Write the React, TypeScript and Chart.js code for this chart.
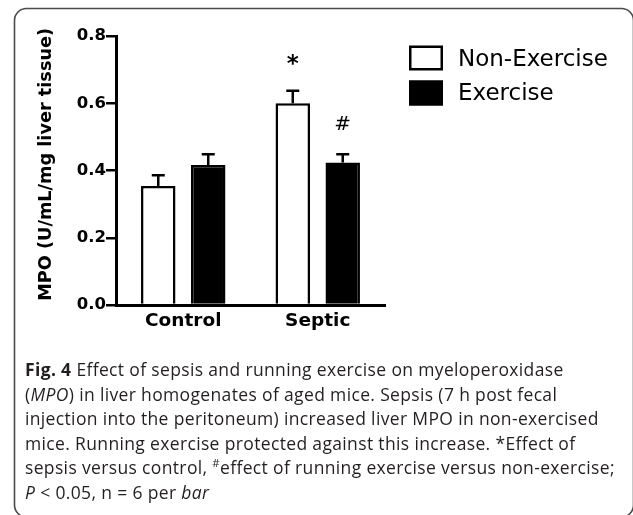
import React, { useEffect, useRef } from "react";
import { Chart, registerables } from "chart.js";

Chart.register(...registerables);

// ---- data ----
const categories = ["Control", "Septic"];
const seriesNames = ["Non-Exercise", "Exercise"];
const nonExerciseMean = [0.354, 0.6];
const nonExerciseSem = [0.032, 0.037];
const exerciseMean = [0.416, 0.424];
const exerciseSem = [0.032, 0.024];
const nonExerciseMarks = ["", "*"];
const exerciseMarks = ["", "#"];
const yTicks = [0, 0.2, 0.4, 0.6, 0.8];
const yTitle = "MPO (U/mL/mg liver tissue)";

const BOLD = "'DejaVu Sans', sans-serif";

const framePlugin = {
  id: "frame",
  beforeDraw(chart: any) {
    const ctx = chart.ctx;
    ctx.save();
    ctx.strokeStyle = "#4a4a4a";
    ctx.lineWidth = 1.6;
    ctx.beginPath();
    ctx.roundRect(14.5, 8.5, 619, 508.5, 12);
    ctx.stroke();
    ctx.restore();
  },
};

const errorBarPlugin = {
  id: "errorBars",
  afterDatasetsDraw(chart: any) {
    const ctx = chart.ctx;
    const y = chart.scales.y;
    chart.data.datasets.forEach((ds: any, di: number) => {
      const meta = chart.getDatasetMeta(di);
      meta.data.forEach((bar: any, i: number) => {
        const mean = ds.data[i];
        const err = ds.errors[i];
        const top = y.getPixelForValue(mean + err);
        const x = bar.x;
        ctx.save();
        ctx.strokeStyle = "#000";
        ctx.lineWidth = 2.5;
        ctx.beginPath();
        ctx.moveTo(x, bar.y);
        ctx.lineTo(x, top);
        ctx.moveTo(x - 6.5, top);
        ctx.lineTo(x + 6.5, top);
        ctx.stroke();
        const mark = ds.marks[i];
        if (mark) {
          ctx.fillStyle = "#000";
          ctx.textAlign = "center";
          ctx.textBaseline = "alphabetic";
          if (mark === "*") {
            ctx.font = `bold 23px ${BOLD}`;
            ctx.fillText(mark, x, top - 20);
          } else {
            ctx.font = `20px ${BOLD}`;
            ctx.fillText(mark, x, top - 24.5);
          }
        }
        ctx.restore();
      });
    });
  },
};

const legendPlugin = {
  id: "customLegend",
  afterDraw(chart: any) {
    const ctx = chart.ctx;
    ctx.save();
    chart.data.datasets.forEach((ds: any, i: number) => {
      const bx = 409;
      const by = 45.5 + i * 35;
      const bw = 34;
      const bh = 25;
      ctx.fillStyle = ds.backgroundColor;
      ctx.fillRect(bx, by, bw, bh);
      ctx.strokeStyle = ds.borderColor;
      ctx.lineWidth = 2.5;
      ctx.strokeRect(bx + 1.25, by + 1.25, bw - 2.5, bh - 2.5);
      ctx.fillStyle = "#000";
      ctx.font = `23px ${BOLD}`;
      ctx.textAlign = "left";
      ctx.textBaseline = "alphabetic";
      ctx.fillText(ds.label, 458, 65.6 + i * 34.8);
    });
    ctx.restore();
  },
};

export default function App() {
  const ref = useRef<HTMLCanvasElement | null>(null);

  useEffect(() => {
    if (!ref.current) return;
    const chart = new Chart(ref.current, {
      type: "bar",
      data: {
        labels: categories,
        datasets: [
          {
            label: seriesNames[0],
            data: nonExerciseMean,
            errors: nonExerciseSem,
            marks: nonExerciseMarks,
            backgroundColor: "#ffffff",
            borderColor: "#000000",
            borderWidth: 2.5,
          } as any,
          {
            label: seriesNames[1],
            data: exerciseMean,
            errors: exerciseSem,
            marks: exerciseMarks,
            backgroundColor: "#000000",
            borderColor: "#000000",
            borderWidth: 2.5,
          } as any,
        ],
      },
      options: {
        animation: false,
        responsive: false,
        devicePixelRatio: 1,
        categoryPercentage: 0.743,
        barPercentage: 0.69,
        layout: { padding: { left: 0, top: 36, right: 248, bottom: 180 } },
        plugins: {
          legend: { display: false },
          tooltip: { enabled: false },
        },
        scales: {
          x: {
            z: 1,
            grid: { display: false, drawTicks: false },
            border: { display: true, color: "#000", width: 3 },
            ticks: {
              color: "#000",
              padding: 5,
              font: { family: BOLD, size: 18.5, weight: "bold" },
            },
            afterFit(scale: any) {
              scale.height = 30;
            },
          },
          y: {
            min: 0,
            max: 0.8,
            afterBuildTicks(scale: any) {
              scale.ticks = yTicks.map((v) => ({ value: v }));
            },
            grid: {
              display: true,
              drawOnChartArea: false,
              drawTicks: true,
              tickLength: 10,
              color: "#000",
              lineWidth: 2.5,
            },
            border: { display: true, color: "#000", width: 3 },
            ticks: {
              color: "#000",
              padding: 0,
              font: { family: BOLD, size: 16.5, weight: "bold" },
              callback: (v: any) => Number(v).toFixed(1),
            },
            title: {
              display: true,
              text: "  " + yTitle,
              color: "#000",
              font: { family: BOLD, size: 17.7, weight: "bold" },
              padding: { top: 35.9, bottom: 0 },
            },
            afterFit(scale: any) {
              scale.width = 116;
            },
          },
        },
      } as any,
      plugins: [framePlugin, errorBarPlugin, legendPlugin],
    });
    return () => chart.destroy();
  }, []);

  const cap: React.CSSProperties = {
    position: "absolute",
    left: 25,
    top: 357,
    fontFamily: "'Open Sans', sans-serif",
    fontSize: 17.5,
    letterSpacing: "0.35px",
    lineHeight: "24.5px",
    color: "#231f20",
    whiteSpace: "nowrap",
  };

  return (
    <div style={{ position: "absolute", left: 0, top: 0, width: 633, height: 515, background: "#fff" }}>
      <canvas ref={ref} width={633} height={515} style={{ position: "absolute", left: 0, top: 0, width: 633, height: 515 }} />
      <div style={cap}>
        <div><b>Fig. 4</b> Effect of sepsis and running exercise on myeloperoxidase</div>
        <div>(<i>MPO</i>) in liver homogenates of aged mice. Sepsis (7 h post fecal</div>
        <div>injection into the peritoneum) increased liver MPO in non-exercised</div>
        <div>mice. Running exercise protected against this increase. *Effect of</div>
        <div>sepsis versus control, <sup style={{ fontSize: "0.65em", lineHeight: 0 }}>#</sup>effect of running exercise versus non-exercise;</div>
        <div><i>P</i> &lt; 0.05, n = 6 per <i>bar</i></div>
      </div>
    </div>
  );
}
